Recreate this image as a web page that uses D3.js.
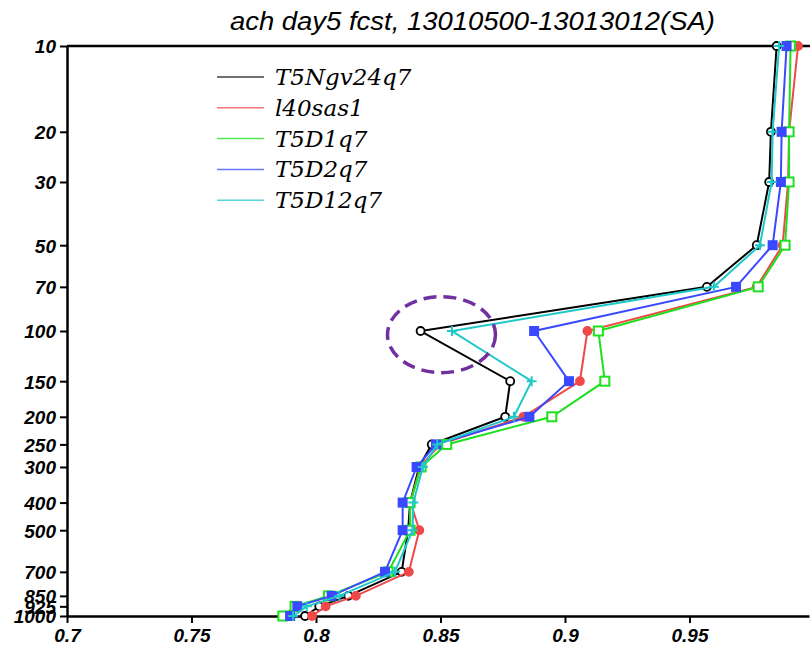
<!DOCTYPE html>
<html>
<head>
<meta charset="utf-8">
<script src="https://cdn.jsdelivr.net/npm/d3@7"></script>
<style>
  body { margin: 0; background: #fff; }
  svg { display: block; }
</style>
</head>
<body>
<div class="main"></div>
<script>
// pressure levels (hPa)
const levels = [10, 20, 30, 50, 70, 100, 150, 200, 250, 300, 400, 500, 700, 850, 925, 1000];
const xTicks = [0.7, 0.75, 0.8, 0.85, 0.9, 0.95];

// anomaly correlation per level, one array per experiment
const t5ngv24q7 = [0.985, 0.9827, 0.982, 0.977, 0.957, 0.842, 0.878, 0.876, 0.8465, 0.8414, 0.8378, 0.837, 0.8344, 0.813, 0.8013, 0.7956];
const l40sas1 = [0.9936, 0.990, 0.9896, 0.9874, 0.977, 0.909, 0.906, 0.8833, 0.8498, 0.8418, 0.838, 0.8415, 0.8373, 0.816, 0.8039, 0.7984];
const t5d1q7 = [0.9906, 0.990, 0.990, 0.9884, 0.9776, 0.9134, 0.916, 0.8947, 0.8525, 0.8422, 0.8378, 0.8378, 0.829, 0.805, 0.7916, 0.7867];
const t5d2q7 = [0.989, 0.987, 0.9867, 0.9834, 0.9687, 0.8876, 0.9016, 0.8857, 0.8482, 0.8404, 0.8348, 0.8348, 0.8277, 0.8063, 0.7925, 0.7896];
const t5d12q7 = [0.986, 0.9834, 0.983, 0.9783, 0.9598, 0.8546, 0.8866, 0.8795, 0.8487, 0.8429, 0.8391, 0.8388, 0.8317, 0.8094, 0.7963, 0.7908];

const series = [
    { name: "T5Ngv24q7", values: t5ngv24q7, color: "#000000", marker: "ocircle" },
    { name: "l40sas1", values: l40sas1, color: "#f04848", marker: "circle" },
    { name: "T5D1q7", values: t5d1q7, color: "#1ee01e", marker: "osquare" },
    { name: "T5D2q7", values: t5d2q7, color: "#3a48ff", marker: "square" },
    { name: "T5D12q7", values: t5d12q7, color: "#1ec8c8", marker: "plus" },
];

let width = 810;
let height = 648;

let svg = d3.select('.main')
    .append("svg")
    .attr("width", width)
    .attr("height", height);

let x = d3.scaleLinear().domain([0.7, 0.998]).range([67, 809]);
let y = d3.scaleLog().domain([10, 1000]).range([46, 616]);

// title
svg.append("text")
    .attr("x", 230)
    .attr("y", 30)
    .attr("textLength", 485)
    .attr("lengthAdjust", "spacingAndGlyphs")
    .style("font-family", "'Liberation Sans', sans-serif")
    .style("font-style", "italic")
    .style("font-size", "26px")
    .text("ach day5 fcst, 13010500-13013012(SA)");

// axes
let yAxis = svg.append("g")
    .attr("transform", "translate(67,0)")
    .call(d3.axisLeft(y).tickValues(levels).tickFormat(d3.format("d")).tickSize(7).tickSizeOuter(0));

let xAxis = svg.append("g")
    .attr("transform", "translate(0,616)")
    .call(d3.axisBottom(x).tickValues(xTicks).tickFormat(d => String(d)).tickSize(7).tickSizeOuter(0));

[yAxis, xAxis].forEach(ax => {
    ax.select(".domain").attr("stroke", "#000").attr("stroke-width", 2.5);
    ax.selectAll(".tick line").attr("stroke", "#000").attr("stroke-width", 2);
    ax.selectAll(".tick text")
        .style("font-family", "'Liberation Sans', Arial, sans-serif")
        .style("font-style", "italic")
        .style("font-weight", "bold")
        .style("font-size", "19px")
        .attr("fill", "#000");
});
yAxis.selectAll(".tick text").attr("x", -11).attr("dy", "0.36em");
xAxis.selectAll(".tick text").attr("y", 13);

// top frame line
svg.append("line")
    .attr("x1", 67).attr("x2", 810)
    .attr("y1", y(10)).attr("y2", y(10))
    .attr("stroke", "#000").attr("stroke-width", 2.5);

let line = d3.line()
    .x(d => x(d[0]))
    .y(d => y(d[1]));

series.forEach(s => {
    let pts = s.values.map((v, i) => [v, levels[i]]);
    let g = svg.append("g");
    g.append("path")
        .datum(pts)
        .attr("fill", "none")
        .attr("stroke", s.color)
        .attr("stroke-width", 2)
        .attr("d", line);

    let marks = g.selectAll(".mk")
        .data(pts)
        .enter();

    if (s.marker === "ocircle" || s.marker === "circle") {
        marks.append("circle")
            .attr("cx", d => x(d[0]))
            .attr("cy", d => y(d[1]))
            .attr("r", 4)
            .attr("fill", s.marker === "circle" ? s.color : "#fff")
            .attr("stroke", s.color)
            .attr("stroke-width", 1.8);
    } else if (s.marker === "osquare" || s.marker === "square") {
        let sz = s.marker === "square" ? 8 : 9;
        marks.append("rect")
            .attr("x", d => x(d[0]) - sz / 2)
            .attr("y", d => y(d[1]) - sz / 2)
            .attr("width", sz)
            .attr("height", sz)
            .attr("fill", s.marker === "square" ? s.color : "#fff")
            .attr("stroke", s.color)
            .attr("stroke-width", 2);
    } else {
        marks.append("path")
            .attr("d", d => {
                let cx = x(d[0]), cy = y(d[1]);
                return `M${cx - 5},${cy}H${cx + 5}M${cx},${cy - 5}V${cy + 5}`;
            })
            .attr("stroke", s.color)
            .attr("stroke-width", 2);
    }
});

// legend
let legend = svg.append("g");
series.forEach((s, i) => {
    let ly = 77 + i * 30.8;
    legend.append("line")
        .attr("x1", 217).attr("x2", 264)
        .attr("y1", ly).attr("y2", ly)
        .attr("stroke", s.color)
        .attr("stroke-opacity", 0.75)
        .attr("stroke-width", 1.5);
    legend.append("text")
        .attr("x", 275)
        .attr("y", ly + 8)
        .style("font-family", "'DejaVu Serif', serif")
        .style("font-style", "italic")
        .style("font-size", "23px")
        .text(s.name);
});

// dashed ellipse marking the 100 hPa dip
svg.append("ellipse")
    .attr("cx", x(0.8504))
    .attr("cy", y(103))
    .attr("rx", 54)
    .attr("ry", 38)
    .attr("fill", "none")
    .attr("stroke", "#7030a0")
    .attr("stroke-width", 3.5)
    .attr("stroke-dasharray", "13,7");
</script>
</body>
</html>
